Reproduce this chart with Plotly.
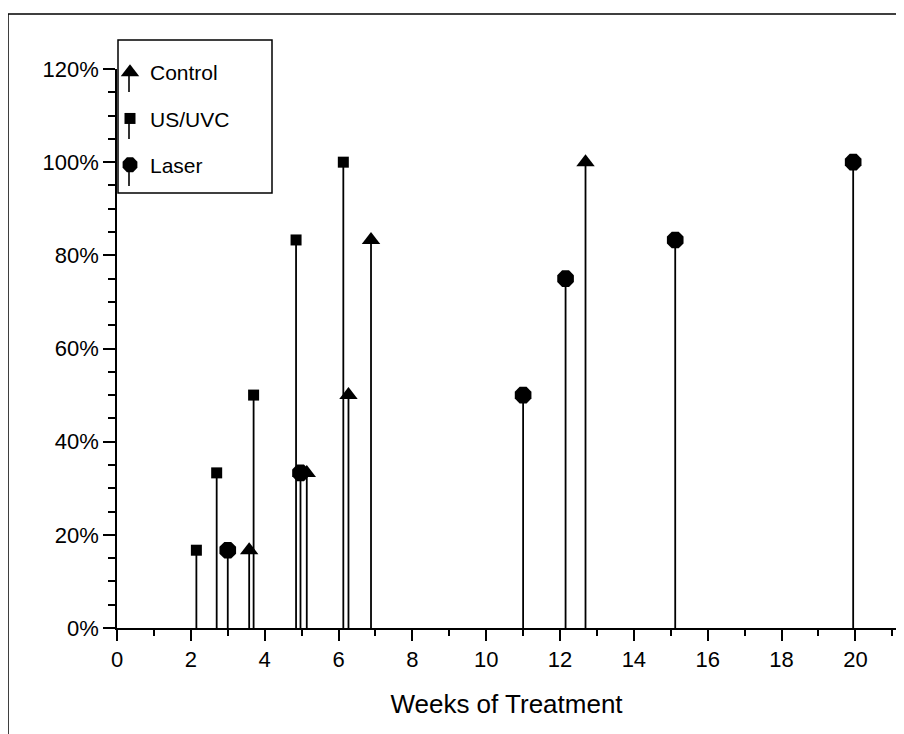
import plotly.graph_objects as go

# ---- data ----
control_weeks = [3.58, 5.14, 6.27, 6.88, 12.69]
control_pct = [16.7, 33.3, 50.0, 83.3, 100.0]

usuvc_weeks = [2.15, 2.70, 3.70, 4.85, 6.13]
usuvc_pct = [16.7, 33.3, 50.0, 83.3, 100.0]

laser_weeks = [3.00, 4.97, 11.00, 12.15, 15.12, 19.94]
laser_pct = [16.7, 33.3, 50.0, 75.0, 83.3, 100.0]

x_ticks = list(range(0, 21, 2))
y_ticks = [0, 20, 40, 60, 80, 100, 120]
y_tick_labels = [f"{v}%" for v in y_ticks]

FONT = "Liberation Sans, Arial, Helvetica, sans-serif"


def stem_trace(name, xs, ys, symbol, size, group):
    yv = [v / 100 for v in ys]
    return go.Scatter(
        x=xs, y=yv, name=name, mode="markers", legendgroup=group,
        marker=dict(symbol=symbol, size=size, color="black",
                    line=dict(width=0)),
        error_y=dict(type="data", symmetric=False,
                     array=[0] * len(yv), arrayminus=yv,
                     width=0, thickness=1.8, color="black"),
    )


fig = go.Figure()
fig.add_trace(stem_trace("Control", control_weeks, control_pct, "triangle-up", 16, "a"))
fig.add_trace(stem_trace("US/UVC", usuvc_weeks, usuvc_pct, "square", 11, "b"))
fig.add_trace(stem_trace("Laser", laser_weeks, laser_pct, "octagon", 18, "c"))

# page has an 8px body margin, so the figure is 8px smaller and offsets shift by 8
OFF = 8
W, H = 904 - OFF, 734 - OFF
L, R, T, B = 117 - OFF, 8, 69 - OFF, 106
pw, ph = W - L - R, H - T - B


def px_x(p):  # page pixel -> paper x
    return (p - OFF - L) / pw


def px_y(p):  # page pixel -> paper y
    return (H - B - (p - OFF)) / ph


shapes = [
    # outer frame
    dict(type="rect", xref="paper", yref="paper",
         x0=px_x(8), x1=px_x(901), y0=px_y(760), y1=px_y(14),
         line=dict(color="black", width=1.5), fillcolor="rgba(0,0,0,0)",
         layer="below"),
    # legend box
    dict(type="rect", xref="paper", yref="paper",
         x0=px_x(118), x1=px_x(272), y0=px_y(193), y1=px_y(40),
         line=dict(color="black", width=1.5), fillcolor="white",
         layer="above"),
]
# little stems under the legend symbols
for cy in (72, 119, 166):
    shapes.append(dict(type="line", xref="paper", yref="paper",
                       x0=px_x(129), x1=px_x(129), y0=px_y(cy + 20), y1=px_y(cy + 3),
                       line=dict(color="black", width=1.6), layer="above"))

fig.update_layout(
    width=W, height=H,
    margin=dict(l=L, r=R, t=T, b=B, pad=0),
    paper_bgcolor="white", plot_bgcolor="white",
    font=dict(family=FONT, size=22, color="black"),
    showlegend=True,
    legend=dict(
        x=px_x(110), y=px_y(52), xanchor="left", yanchor="top",
        bgcolor="rgba(0,0,0,0)", borderwidth=0,
        font=dict(family=FONT, size=21, color="black"),
        tracegroupgap=16, itemsizing="trace",
    ),
    xaxis=dict(
        range=[0, 21.1], tickvals=x_ticks, ticktext=[str(v) for v in x_ticks],
        showgrid=False, zeroline=False, showline=True, linecolor="black", linewidth=1.5,
        ticks="outside", ticklen=11, tickwidth=1.5, tickcolor="black",
        tickfont=dict(size=22),
        minor=dict(dtick=1, ticks="outside", ticklen=6, tickwidth=1.5, tickcolor="black", showgrid=False),
        title=dict(text="Weeks of Treatment", font=dict(size=26), standoff=24),
    ),
    yaxis=dict(
        range=[0, 1.2], tickvals=[v / 100 for v in y_ticks], ticktext=y_tick_labels,
        showgrid=False, zeroline=False, showline=True, linecolor="black", linewidth=1.5,
        ticks="outside", ticklen=12, tickwidth=1.5, tickcolor="black",
        tickfont=dict(size=22),
        minor=dict(dtick=0.05, ticks="outside", ticklen=7, tickwidth=1.5, tickcolor="black", showgrid=False),
    ),
    shapes=shapes,
)

fig.write_html("out.html")
